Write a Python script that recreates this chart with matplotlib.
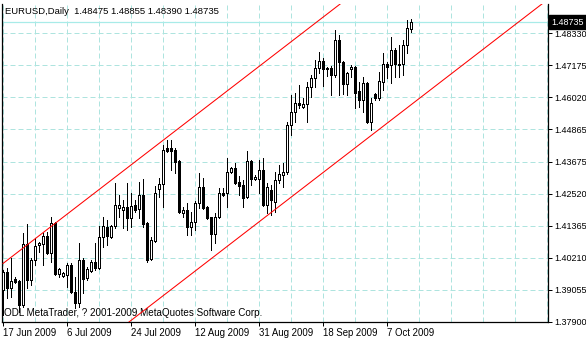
import matplotlib
matplotlib.use("Agg")
import matplotlib.pyplot as plt
import matplotlib.transforms as mtransforms
import numpy as np
import pandas as pd

# EURUSD daily bars (MetaTrader shows Sunday bars too)
dates = pd.bdate_range("2009-06-17", periods=103, freq="C",
                       weekmask="Sun Mon Tue Wed Thu Fri")

opens = [1.3904, 1.3969, 1.3911, 1.3944, 1.3936, 1.3850, 1.4070, 1.3940, 1.4012, 1.4067,
         1.4070, 1.4099, 1.4038, 1.4146, 1.3962, 1.3954, 1.3958, 1.3994, 1.3897, 1.3857,
         1.4012, 1.3947, 1.3973, 1.4005, 1.3983, 1.4096, 1.4132, 1.4096, 1.4135, 1.4201,
         1.4193, 1.4204, 1.4164, 1.4212, 1.4197, 1.4248, 1.4146, 1.4016, 1.4081, 1.4269,
         1.4287, 1.4418, 1.4418, 1.4411, 1.4371, 1.4183, 1.4193, 1.4132, 1.4150, 1.4219,
         1.4277, 1.4204, 1.4168, 1.4107, 1.4168, 1.4255, 1.4255, 1.4331, 1.4345, 1.4295,
         1.4284, 1.4240, 1.4371, 1.4306, 1.4306, 1.4338, 1.4212, 1.4266, 1.4222, 1.4302,
         1.4320, 1.4331, 1.4501, 1.4548, 1.4581, 1.4566, 1.4577, 1.4639, 1.4671, 1.4707,
         1.4733, 1.4707, 1.4707, 1.4682, 1.4809, 1.4729, 1.4650, 1.4704, 1.4711, 1.4624,
         1.4592, 1.4653, 1.4512, 1.4613, 1.4599, 1.4657, 1.4722, 1.4718, 1.4773, 1.4722,
         1.4722, 1.4791, 1.48475]
highs = [1.3976, 1.3983, 1.4020, 1.3951, 1.3940, 1.4110, 1.4143, 1.4020, 1.4092, 1.4078,
         1.4110, 1.4114, 1.4168, 1.4150, 1.3983, 1.3969, 1.4002, 1.4002, 1.3951, 1.4074,
         1.4020, 1.3987, 1.4012, 1.4074, 1.4135, 1.4168, 1.4157, 1.4139, 1.4291, 1.4248,
         1.4230, 1.4291, 1.4255, 1.4230, 1.4295, 1.4306, 1.4150, 1.4096, 1.4280, 1.4309,
         1.4429, 1.4447, 1.4447, 1.4418, 1.4374, 1.4204, 1.4219, 1.4186, 1.4226, 1.4327,
         1.4309, 1.4208, 1.4168, 1.4183, 1.4273, 1.4273, 1.4382, 1.4349, 1.4364, 1.4316,
         1.4302, 1.4407, 1.4374, 1.4320, 1.4374, 1.4382, 1.4291, 1.4284, 1.4331, 1.4356,
         1.4364, 1.4512, 1.4610, 1.4617, 1.4646, 1.4599, 1.4657, 1.4682, 1.4736, 1.4765,
         1.4744, 1.4711, 1.4715, 1.4845, 1.4827, 1.4733, 1.4693, 1.4718, 1.4715, 1.4657,
         1.4675, 1.4657, 1.4599, 1.4617, 1.4693, 1.4762, 1.4729, 1.4820, 1.4780, 1.4791,
         1.4809, 1.4881, 1.48855]
lows = [1.3813, 1.3875, 1.3878, 1.3929, 1.3824, 1.3842, 1.3911, 1.3922, 1.3994, 1.4041,
        1.3994, 1.4034, 1.4005, 1.3958, 1.3951, 1.3951, 1.3915, 1.3893, 1.3839, 1.3842,
        1.3893, 1.3940, 1.3969, 1.3976, 1.3980, 1.4059, 1.4067, 1.4092, 1.4128, 1.4168,
        1.4128, 1.4121, 1.4132, 1.4186, 1.4164, 1.4132, 1.4005, 1.4012, 1.4078, 1.4240,
        1.4204, 1.4403, 1.4338, 1.4327, 1.4183, 1.4168, 1.4103, 1.4103, 1.4121, 1.4201,
        1.4197, 1.4161, 1.4049, 1.4074, 1.4164, 1.4245, 1.4204, 1.4327, 1.4287, 1.4248,
        1.4204, 1.4237, 1.4284, 1.4302, 1.4255, 1.4208, 1.4183, 1.4175, 1.4186, 1.4291,
        1.4277, 1.4324, 1.4465, 1.4512, 1.4563, 1.4563, 1.4512, 1.4602, 1.4639, 1.4689,
        1.4642, 1.4678, 1.4610, 1.4675, 1.4610, 1.4613, 1.4610, 1.4675, 1.4563, 1.4566,
        1.4548, 1.4508, 1.4483, 1.4592, 1.4592, 1.4628, 1.4671, 1.4653, 1.4675, 1.4675,
        1.4682, 1.4762, 1.48390]
closes = [1.3969, 1.3911, 1.3936, 1.3933, 1.3850, 1.4070, 1.3940, 1.4012, 1.4063, 1.4074,
          1.4099, 1.4038, 1.4146, 1.3962, 1.3980, 1.3965, 1.3994, 1.3897, 1.3857, 1.4012,
          1.3944, 1.3980, 1.4005, 1.3983, 1.4096, 1.4135, 1.4099, 1.4135, 1.4212, 1.4212,
          1.4204, 1.4164, 1.4208, 1.4193, 1.4248, 1.4143, 1.4012, 1.4085, 1.4255, 1.4287,
          1.4411, 1.4407, 1.4407, 1.4367, 1.4186, 1.4193, 1.4132, 1.4150, 1.4219, 1.4277,
          1.4201, 1.4164, 1.4107, 1.4168, 1.4255, 1.4248, 1.4331, 1.4345, 1.4291, 1.4280,
          1.4237, 1.4371, 1.4306, 1.4313, 1.4338, 1.4212, 1.4277, 1.4230, 1.4302, 1.4324,
          1.4331, 1.4501, 1.4548, 1.4581, 1.4573, 1.4577, 1.4639, 1.4671, 1.4707, 1.4733,
          1.4704, 1.4704, 1.4682, 1.4809, 1.4729, 1.4650, 1.4689, 1.4711, 1.4617, 1.4592,
          1.4653, 1.4512, 1.4581, 1.4599, 1.4660, 1.4722, 1.4711, 1.4773, 1.4722, 1.4718,
          1.4791, 1.4852, 1.48735]

# price axis labels as MetaTrader printed them
price_ticks = [1.37900, 1.39055, 1.40210, 1.41365, 1.42520,
               1.43675, 1.44865, 1.46020, 1.47175, 1.48330]
last_price = 1.48735

# equidistant channel, two anchor points per line (bar index, price)
chan_bars = [0, 140]
chan_upper = [1.4000, 1.5560]
chan_lower = [1.3437, 1.4998]

grid_col = "#aee4df"
plt.rcParams["font.family"] = ["Liberation Sans", "DejaVu Sans"]
plt.rcParams["font.size"] = 6.5

# ── Figure ────────────────────────────────────────────────────────────────────
fig = plt.figure(figsize=(5.86, 3.40), dpi=100, facecolor="white")
ax = fig.add_axes([2 / 586, 18.5 / 340, 546 / 586, 318 / 340])

x = np.arange(len(closes))
o = np.array(opens)
c = np.array(closes)
up = c >= o

ax.vlines(x, lows, highs, color="black", linewidth=0.72, antialiased=False, zorder=3)
ax.bar(x, np.abs(c - o), bottom=np.minimum(o, c), width=0.55,
       color=np.where(up, "white", "black"), edgecolor="black",
       linewidth=0.72, antialiased=False, zorder=4)

ax.plot(chan_bars, chan_upper, color="red", linewidth=0.75, zorder=5)
ax.plot(chan_bars, chan_lower, color="red", linewidth=0.75, zorder=5)
ax.axhline(last_price, color="#a8ebe8", linewidth=0.9, zorder=2)

ax.set_xlim(-0.25, 136.25)
ax.set_ylim(1.3790, 1.4941)

# axes: ticks + grid
major = list(range(0, len(closes), 16))
ax.set_xticks(major)
ax.set_xticklabels([f"{d.day} {d:%b %Y}" for d in dates[major]], ha="left", fontsize=6.9)
ax.set_xticks(range(8, 137, 8), minor=True)
ax.set_yticks(price_ticks)
ax.set_yticklabels([f"{p:.5f}" for p in price_ticks])
ax.yaxis.tick_right()
ax.tick_params(axis="x", which="major", length=3, width=0.72, pad=1.5, direction="out")
ax.tick_params(axis="x", which="minor", length=0)
ax.tick_params(axis="y", length=3, width=0.72, pad=1.5, direction="out")
ax.grid(which="both", color=grid_col, linestyle=(0, (5, 3)), linewidth=0.72, zorder=0)
ax.set_axisbelow(True)

for s in ["left", "right", "bottom"]:
    ax.spines[s].set_linewidth(0.9)
    ax.spines[s].set_color("black")
ax.spines["top"].set_visible(False)

# texts
ax.text(0.0055, 0.976, f"EURUSD,Daily  {opens[-1]:.5f} {highs[-1]:.5f} {lows[-1]:.5f} {closes[-1]:.5f}",
        transform=ax.transAxes, ha="left", va="center", color="black", fontsize=6.8)
ax.text(0.003, 0.027, "ODL MetaTrader, ? 2001-2009 MetaQuotes Software Corp.",
        transform=ax.transAxes, ha="left", va="center", color="black", fontsize=7.1)

trans = mtransforms.blended_transform_factory(ax.transAxes, ax.transData)
ax.text(1.0055, last_price, f"{last_price:.5f}", transform=trans, ha="left", va="center",
        color="white", zorder=10, clip_on=False,
        bbox=dict(boxstyle="square,pad=0.25", fc="black", ec="black"))

fig.savefig("out.png", dpi=100, facecolor="white")
